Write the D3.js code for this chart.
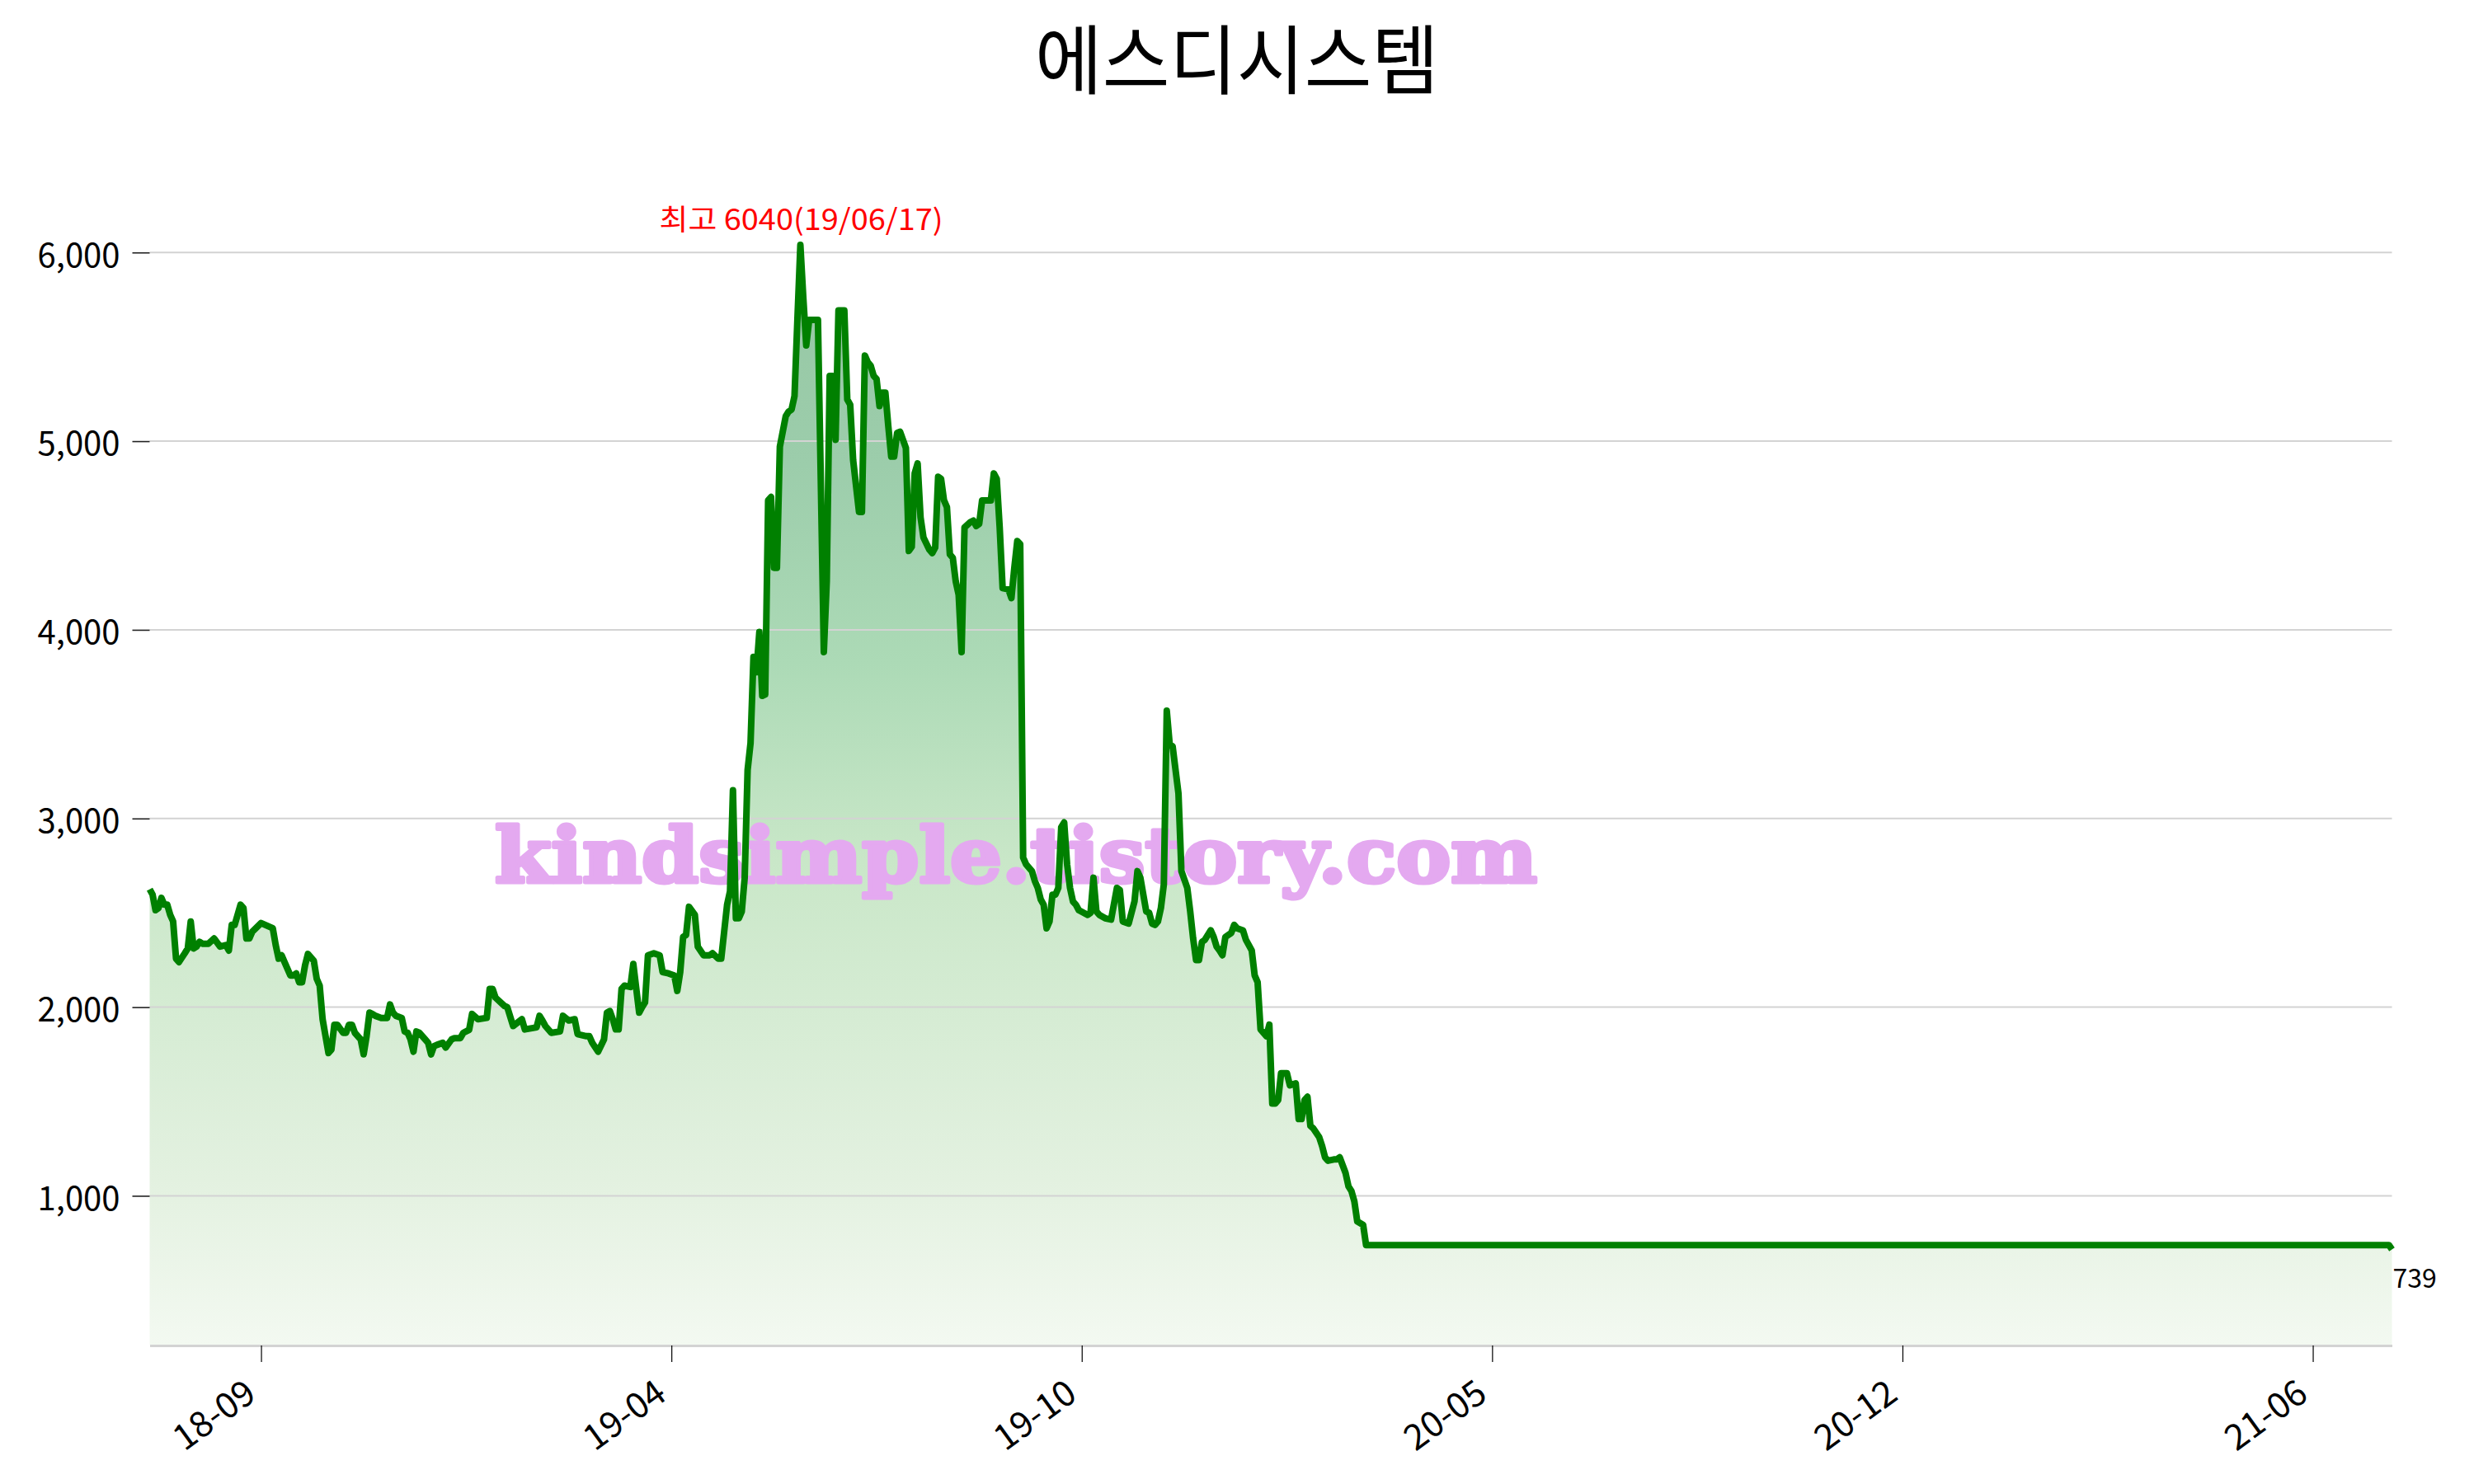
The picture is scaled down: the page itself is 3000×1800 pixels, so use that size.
<!DOCTYPE html>
<html>
<head>
<meta charset="utf-8">
<script src="https://cdn.jsdelivr.net/npm/d3@7"></script>
<style>
  body { margin: 0; background: #fff; }
  text { font-family: "Noto Sans CJK KR", "Noto Sans", sans-serif; }
</style>
</head>
<body>
<svg width="3000" height="1800"></svg>
<script>
var title = "에스디시스템";
var watermark = "kindsimple.tistory.com";
var peakLabel = "최고 6040(19/06/17)";
var lastClose = 739;

// trading-day index of each traced turning point, and the close on that day
var days = [
  0,1,2,3,4,5,6,7,8,9,10,12,13,14,15,16,17,18,20,22,24,26,27,28,29,30,31,32,33,34,35,38,
  42,43,44,45,46,48,49,50,51,52,53,54,56,57,58,59,61,62,63,64,66,67,68,69,70,72,73,74,75,
  76,77,79,81,82,83,84,86,87,88,89,90,91,92,94,95,96,97,98,100,101,103,104,106,107,109,
  110,112,115,116,117,118,121,122,124,127,128,132,133,134,135,137,140,141,143,145,146,149,
  150,151,153,155,156,157,158,159,160,161,162,164,165,167,168,169,170,172,174,175,177,179,
  180,181,182,183,184,186,187,189,191,192,194,195,196,197,198,199,200,201,202,203,204,205,
  206,207,208,209,210,211,212,213,214,215,217,218,219,220,221,222,
  223,224,225,228,230,231,232,233,234,235,237,238,239,240,242,243,244,245,246,247,248,249,
  250,251,252,253,254,255,256,258,259,260,261,262,263,264,266,267,268,269,270,271,272,273,
  274,275,276,277,278,280,281,282,283,284,287,288,289,290,291,293,294,295,296,297,298,299,
  301,302,303,304,305,306,307,308,309,310,311,312,313,314,315,316,317,320,321,322,323,324,
  326,328,330,331,332,334,
  336,337,338,340,341,342,343,344,345,346,347,348,349,351,352,354,355,356,357,358,359,360,
  362,363,364,365,366,367,369,370,371,373,374,376,377,378,379,381,382,383,384,385,386,388,
  389,391,392,393,394,395,396,397,399,400,401,402,404,405,406,408,409,410,411,412,414,415,
  764,765
];
var prices = [
  2625,2596,2514,2525,2579,2543,2543,2489,2454,2257,2239,2286,2311,2454,2311,2321,2346,2336,2336,2364,2321,2329,2300,2436,2436,2489,2543,2525,2364,2364,2400,2446,
  2418,2329,2257,2275,2239,2168,2168,2179,2132,2132,2221,2282,2246,2150,2114,1936,1757,1775,1907,1907,1864,1864,1907,1907,1864,1829,1750,1846,1971,
  1964,1954,1943,1943,2014,1971,1954,1943,1871,1864,1829,1764,1871,1864,1829,1811,1750,1793,1800,1811,1786,1829,1836,1836,1864,1880,
  1964,1936,1943,2097,2097,2050,2007,2000,1900,1936,1882,1893,1954,1929,1900,1864,1871,1954,1929,1936,1857,1846,
  1846,1811,1764,1829,1971,1979,1936,1882,1882,2097,2114,2107,2229,1971,2000,2025,2275,2286,2275,2186,2179,2168,
  2086,2186,2372,2382,2532,2489,2321,2275,2275,2286,2257,2257,2400,2543,2614,3150,2471,2471,2507,2686,3257,3400,
  3857,3775,3989,3650,3657,4686,4704,4329,4329,4971,5132,5157,5168,5239,5650,6040,
  5760,5507,5643,5643,3882,4257,5346,5346,5007,5693,5693,5221,5193,4900,4625,4625,5454,5418,5400,5346,5329,5186,
  5257,5257,5079,4918,4918,5043,5050,4964,4418,4440,4829,4882,4596,4489,4425,4407,4436,4811,4800,4686,4650,4400,
  4382,4257,4186,3882,4543,4571,4579,4550,4561,4686,4686,4829,4800,4543,4221,4214,4168,4329,4471,4454,2793,2757,
  2721,2668,2632,2571,2543,2418,2454,2596,2596,2632,2954,2979,2757,2632,2560,2543,2514,2489,2500,2686,2507,2489,
  2471,2464,2632,2621,2454,2443,
  2561,2721,2686,2507,2500,2443,2436,2454,2525,2650,3571,3393,3382,3132,2721,2632,2507,2364,2250,2250,2346,2357,
  2407,2372,2321,2300,2275,2372,2393,2436,2418,2407,2357,2300,2168,2132,1882,1846,1907,1489,1489,1507,1650,1650,
  1586,1596,1407,1407,1507,1525,1371,1357,1311,1264,1204,1186,1193,1193,1204,1121,1050,1025,971,864,846,739,
  739,716
];

var tickDays = [38, 178, 318, 458, 598, 738];
var tickLabels = ["18-09", "19-04", "19-10", "20-05", "20-12", "21-06"];
var yTicks = [1000, 2000, 3000, 4000, 5000, 6000];
var peakDay = 222, peakPrice = 6040;

var svg = d3.select("svg");
var plot = {left: 181.5, right: 2900.5, top: 228, bottom: 1631};

var data = days.map(function(d, i) { return {day: d, price: prices[i]}; });

var xScale = d3.scaleLinear().domain([0, 765]).range([plot.left, plot.right]);
var yScale = d3.scaleLinear().domain([211, 6342]).range([plot.bottom, plot.top]);

// gradient under the line
var grad = svg.append("defs").append("linearGradient")
    .attr("id", "fillGrad")
    .attr("gradientUnits", "userSpaceOnUse")
    .attr("x1", 0).attr("x2", 0)
    .attr("y1", yScale(peakPrice)).attr("y2", plot.bottom);
[[0, "#96c7a4"], [0.2, "#9ccdab"], [0.38, "#acdab6"], [0.56, "#c9e7c8"], [0.85, "#e3f1e0"], [1, "#f3f9f1"]]
  .forEach(function(s) {
    grad.append("stop").attr("offset", s[0]).attr("stop-color", s[1]);
  });

svg.append("path")
    .datum(data)
    .attr("fill", "url(#fillGrad)")
    .attr("d", d3.area()
        .x(function(d) { return xScale(d.day); })
        .y0(plot.bottom)
        .y1(function(d) { return yScale(d.price); }));

// grid
svg.append("g").selectAll("line").data(yTicks).enter()
    .append("line")
    .attr("x1", plot.left).attr("x2", plot.right)
    .attr("y1", function(d) { return yScale(d); })
    .attr("y2", function(d) { return yScale(d); })
    .attr("stroke", "#d3d3d3")
    .attr("stroke-width", 2);

// watermark
svg.append("text")
    .attr("x", 600)
    .attr("y", 1070)
    .attr("textLength", 1264)
    .attr("lengthAdjust", "spacingAndGlyphs")
    .style("font-family", "'DejaVu Serif', serif")
    .style("font-weight", "bold")
    .style("font-size", "92px")
    .attr("fill", "#e4a9f0")
    .attr("stroke", "#e4a9f0")
    .attr("stroke-width", 5)
    .attr("stroke-linejoin", "round")
    .text(watermark);

// price line
svg.append("path")
    .datum(data)
    .attr("fill", "none")
    .attr("stroke", "#008000")
    .attr("stroke-width", 8)
    .attr("stroke-linejoin", "round")
    .attr("d", d3.line()
        .x(function(d) { return xScale(d.day); })
        .y(function(d) { return yScale(d.price); }));

// x axis
var xAxis = svg.append("g")
    .attr("transform", "translate(0," + (plot.bottom + 1) + ")")
    .call(d3.axisBottom(xScale)
        .tickValues(tickDays)
        .tickFormat(function(d, i) { return tickLabels[i]; })
        .tickSize(20)
        .tickSizeOuter(0));
xAxis.select(".domain").attr("stroke", "#d3d3d3").attr("stroke-width", 3);
xAxis.selectAll(".tick line").attr("stroke", "#000").attr("stroke-width", 1.2);
xAxis.selectAll(".tick text")
    .attr("x", 0).attr("y", 0).attr("dy", 0)
    .attr("transform", "translate(-4,64) rotate(-36)")
    .style("text-anchor", "end")
    .style("font-size", "43px")
    .attr("fill", "#000");

// y axis
var yAxis = svg.append("g")
    .attr("transform", "translate(" + plot.left + ",0)")
    .call(d3.axisLeft(yScale)
        .tickValues(yTicks)
        .tickFormat(d3.format(","))
        .tickSize(21)
        .tickPadding(15));
yAxis.select(".domain").remove();
yAxis.selectAll(".tick line").attr("stroke", "#222").attr("stroke-width", 1.6);
yAxis.selectAll(".tick text")
    .attr("dy", "0.42em")
    .style("font-size", "40px")
    .attr("fill", "#000");

// max annotation
svg.append("text")
    .attr("x", xScale(peakDay) + 1)
    .attr("y", yScale(peakPrice) - 18)
    .attr("textLength", 344)
    .attr("lengthAdjust", "spacingAndGlyphs")
    .style("text-anchor", "middle")
    .style("font-size", "35px")
    .attr("fill", "#ff0000")
    .text(peakLabel);

// last value
svg.append("text")
    .attr("x", xScale(days[days.length - 1]) + 1)
    .attr("y", yScale(lastClose) + 52)
    .style("font-size", "32px")
    .attr("fill", "#000")
    .text(lastClose);

// title
svg.append("text")
    .attr("x", 1500)
    .attr("y", 107)
    .attr("textLength", 490)
    .attr("lengthAdjust", "spacingAndGlyphs")
    .style("text-anchor", "middle")
    .style("font-size", "92px")
    .attr("fill", "#000")
    .text(title);
</script>
</body>
</html>
